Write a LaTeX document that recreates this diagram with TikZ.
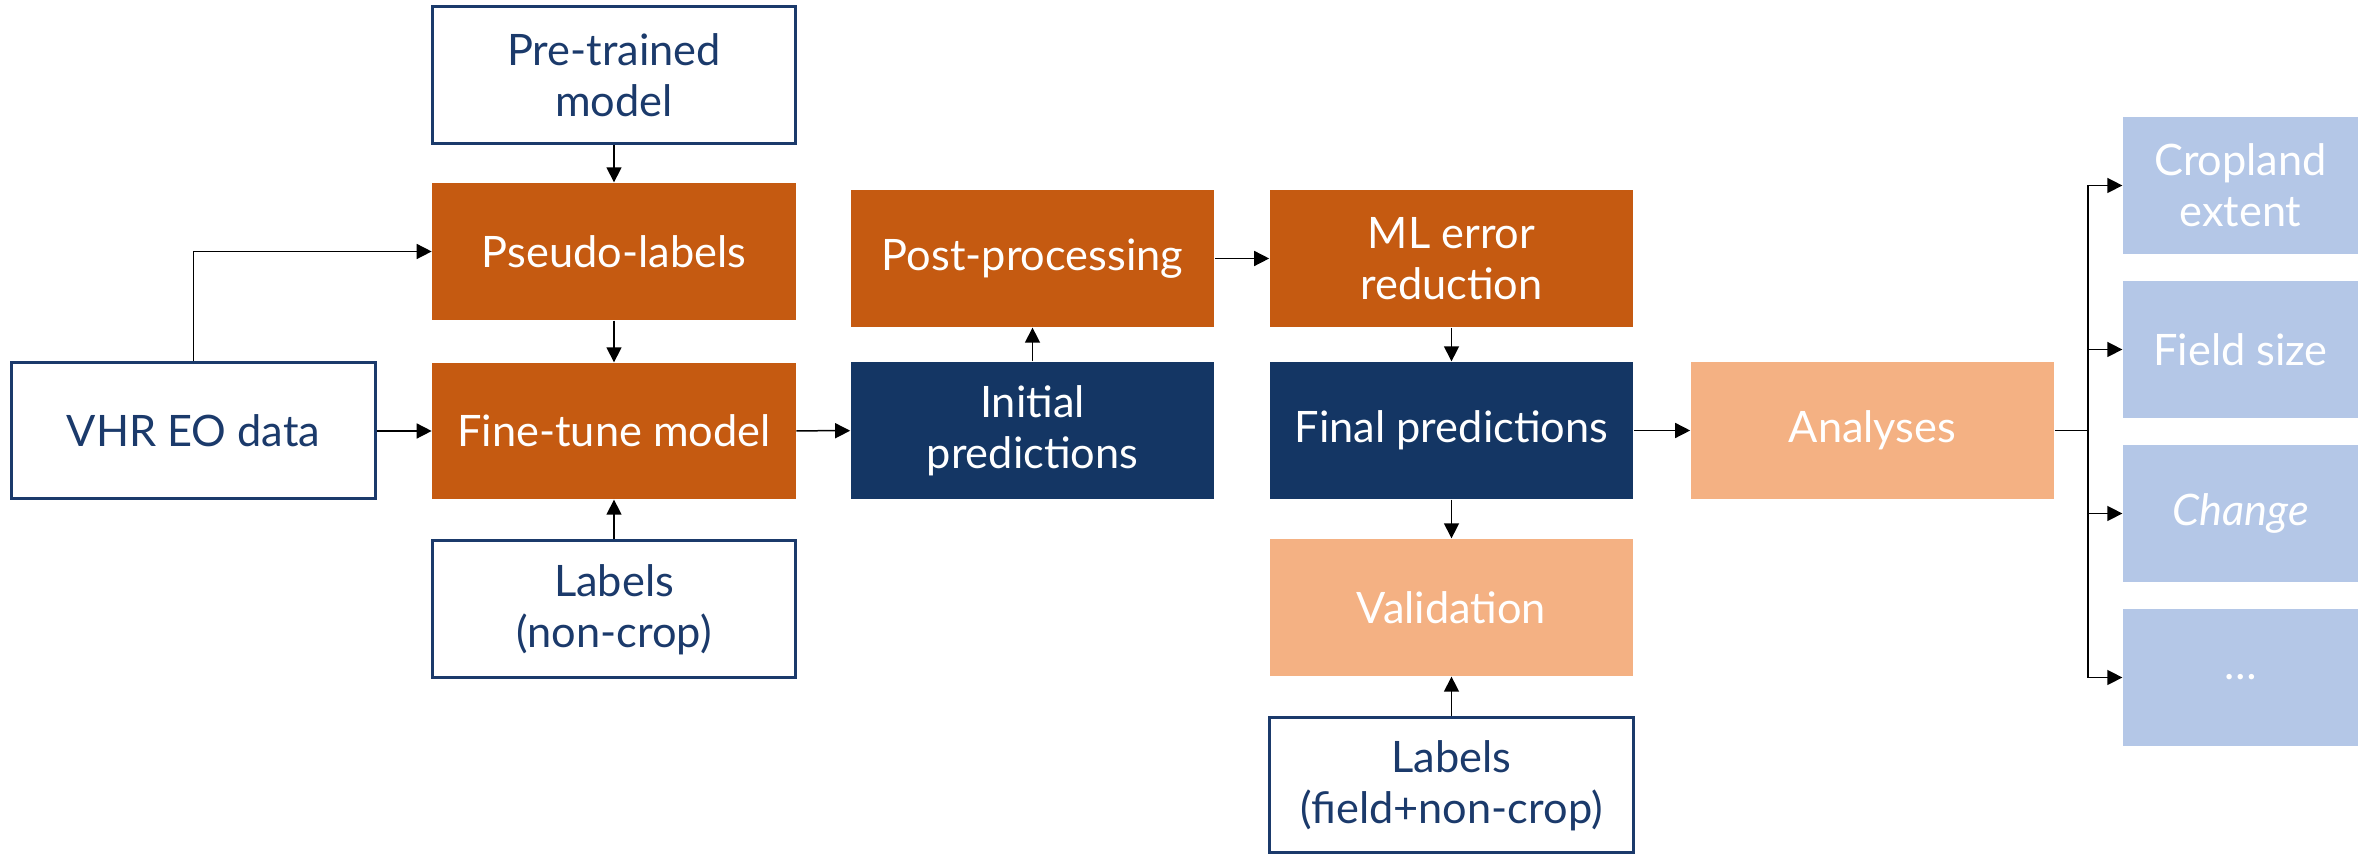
\documentclass[tikz,border=0pt]{standalone}
\usepackage{fontspec}
\setmainfont{Lato}
\usetikzlibrary{arrows.meta}
\definecolor{cOrange}{HTML}{C55A11}
\definecolor{cNavy}{HTML}{143664}
\definecolor{cLine}{HTML}{1B3A6B}
\definecolor{cPeach}{HTML}{F4B183}
\definecolor{cSky}{HTML}{B4C7E7}
\tikzset{
  base/.style={rectangle, align=center, inner sep=0pt, font=\fontsize{13pt}{15.3pt}\selectfont,
    minimum width=109pt, minimum height=41.1pt},
  whitebox/.style={base, draw=cLine, line width=0.9pt, fill=white, text=cLine},
  orangebox/.style={base, fill=cOrange, text=white},
  navybox/.style={base, fill=cNavy, text=white},
  peachbox/.style={base, fill=cPeach, text=white},
  skybox/.style={base, fill=cSky, text=white, minimum width=70.5pt},
  arr/.style={-{Triangle[length=4.5pt,width=4.5pt]}, line width=0.45pt, black},
  plain/.style={line width=0.45pt, black}
}
\begin{document}
\begin{tikzpicture}[x=0.3pt, y=-0.3pt]
\useasboundingbox (0,0) rectangle (2369,855);
% left column
\node[whitebox, minimum height=40.8pt] (vhr) at (193.5,431) {VHR EO data};
\node[whitebox] (pre) at (614,75.5) {Pre-trained\\model};
\node[orangebox] (pseudo) at (614,251.5) {Pseudo-labels};
\node[orangebox, minimum height=40.8pt] (fine) at (614,431) {Fine-tune model};
\node[whitebox] (lab1) at (614,609.5) {Labels\\(non-crop)};
% middle
\node[orangebox] (post) at (1032.5,258.5) {Post-processing};
\node[navybox] (init) at (1032.5,430.5) {Initial\\predictions};
\node[orangebox] (ml) at (1451.5,258.5) {ML error\\reduction};
\node[navybox] (final) at (1451.5,430.5) {Final predictions};
\node[peachbox] (valid) at (1451.5,607.5) {Validation};
\node[whitebox, minimum height=40.5pt] (lab2) at (1451.5,785.5) {Labels\\(field+non-crop)};
% right
\node[peachbox] (anal) at (1872.5,430.5) {Analyses};
\node[skybox] (r1) at (2240.5,185.5) {Cropland\\extent};
\node[skybox] (r2) at (2240.5,349.5) {Field size};
\node[skybox] (r3) at (2240.5,513.5) {\itshape Change};
\node[skybox] (r4) at (2240.5,677.5) {\ldots};
% connectors
\draw[arr] (pre) -- (pseudo);
\draw[arr] (pseudo) -- (fine);
\draw[arr] (lab1) -- (fine);
\draw[arr] (vhr) -- (fine);
\draw[arr] (vhr.north) |- (pseudo.west);
\draw[arr] (fine) -- (init);
\draw[arr] (init) -- (post);
\draw[arr] (post) -- (ml);
\draw[arr] (ml) -- (final);
\draw[arr] (final) -- (valid);
\draw[arr] (lab2) -- (valid);
\draw[arr] (final) -- (anal);
\coordinate (br) at (2088,430.5);
\draw[plain] (anal.east) -- (br);
\draw[arr] (br) |- (r1.west);
\draw[arr] (br) |- (r2.west);
\draw[arr] (br) |- (r3.west);
\draw[arr] (br) |- (r4.west);
\end{tikzpicture}
\end{document}
